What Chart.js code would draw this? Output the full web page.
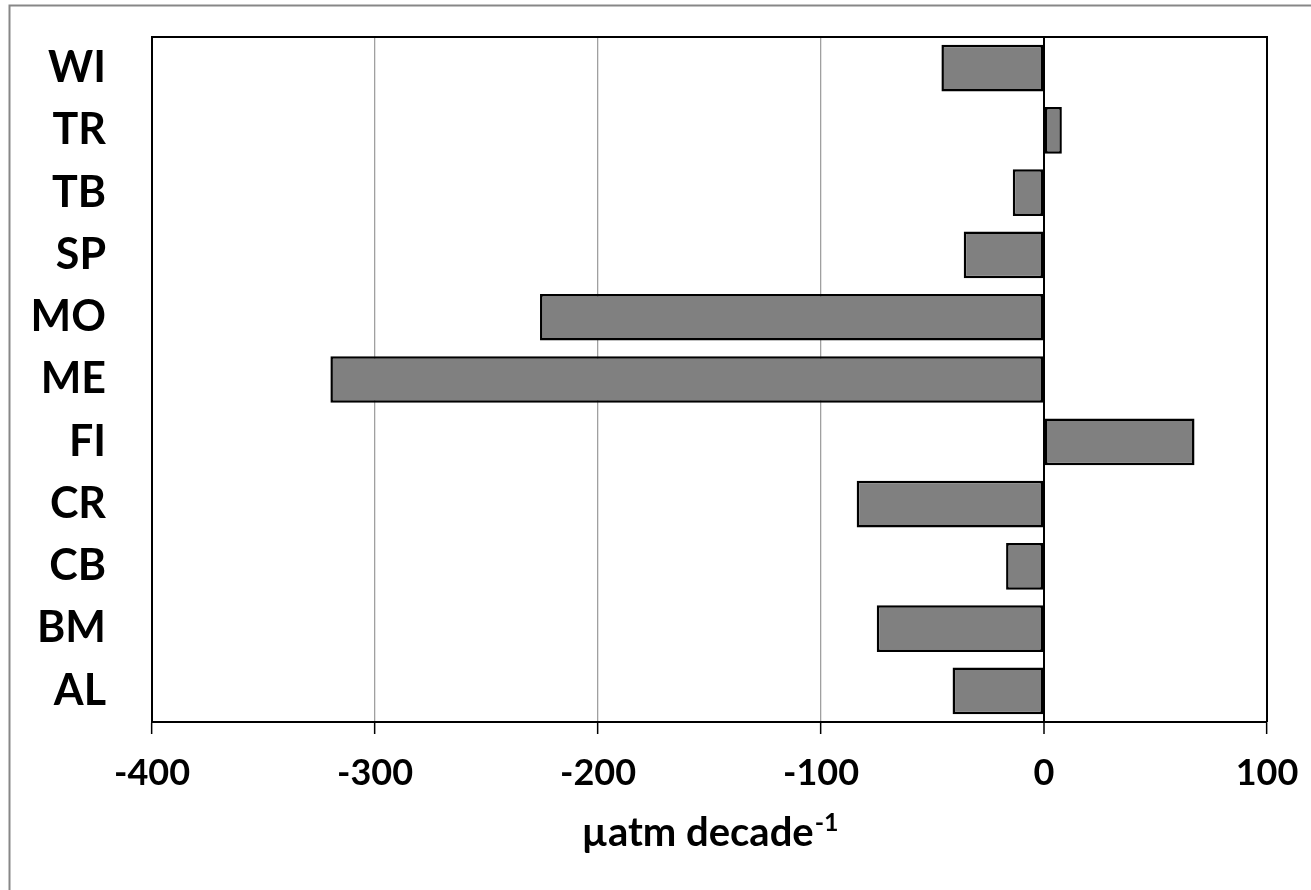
<!DOCTYPE html>
<html>
<head>
<meta charset="utf-8">
<script src="https://cdn.jsdelivr.net/npm/chart.js@4.4.1/dist/chart.umd.min.js"></script>
<style>
  html, body { margin: 0; padding: 0; background: #fff; }
  #wrap { width: 1311px; height: 890px; position: relative; }
</style>
</head>
<body>
<div id="wrap"><canvas id="c" width="1311" height="890"></canvas></div>
<script>
const categories = ['WI', 'TR', 'TB', 'SP', 'MO', 'ME', 'FI', 'CR', 'CB', 'BM', 'AL'];
const trendValues = [-46, 8, -14, -36, -226, -320, 67.5, -84, -17, -75, -41];
const xMin = -400, xMax = 100, xStep = 100;
const axisTitle = 'µatm decade';
const axisTitleSup = '-1';

const FONT = 'Lato, "Open Sans", sans-serif';

// outer frame + plot frame + axis title with superscript
const decor = {
  id: 'decor',
  beforeDraw(chart) {
    const ctx = chart.ctx;
    ctx.save();
    ctx.fillStyle = '#fff';
    ctx.fillRect(0, 0, chart.width, chart.height);
    ctx.strokeStyle = '#878787';
    ctx.lineWidth = 2;
    ctx.strokeRect(9.5, 5.5, 1400, 1000);
    ctx.restore();
  },
  afterDraw(chart) {
    const ctx = chart.ctx;
    const a = chart.chartArea;
    ctx.save();
    ctx.strokeStyle = '#000';
    ctx.lineWidth = 2;
    ctx.beginPath();
    ctx.moveTo(a.left, a.top);
    ctx.lineTo(a.right, a.top);
    ctx.lineTo(a.right, a.bottom);
    ctx.stroke();

    ctx.fillStyle = '#000';
    ctx.textBaseline = 'alphabetic';
    ctx.font = 'bold 40px ' + FONT;
    const w1 = ctx.measureText(axisTitle).width;
    ctx.font = 'bold 25px ' + FONT;
    const w2 = ctx.measureText(axisTitleSup).width;
    const cx = (a.left + a.right) / 2;
    const x0 = cx - (w1 + w2) / 2;
    ctx.font = 'bold 40px ' + FONT;
    ctx.textAlign = 'left';
    ctx.fillText(axisTitle, x0, 846);
    ctx.font = 'bold 25px ' + FONT;
    ctx.fillText(axisTitleSup, x0 + w1 + 1, 831);
    ctx.restore();
  }
};

new Chart(document.getElementById('c'), {
  type: 'bar',
  data: {
    labels: categories,
    datasets: [{
      data: trendValues,
      backgroundColor: '#808080',
      borderColor: '#000',
      borderWidth: 2.5,
      borderSkipped: false,
      barPercentage: 0.75,
      categoryPercentage: 1
    }]
  },
  options: {
    indexAxis: 'y',
    responsive: false,
    animation: false,
    layout: { padding: { left: 0, top: 37, right: 44, bottom: 0 } },
    plugins: { legend: { display: false }, tooltip: { enabled: false } },
    scales: {
      x: {
        min: xMin, max: xMax,
        afterFit(s) { s.height = 890 - 722; s.paddingLeft = 0; s.paddingRight = 0; },
        ticks: {
          stepSize: xStep,
          color: '#000',
          padding: 18,
          font: { family: FONT, size: 36, weight: 'bold' }
        },
        grid: {
          color: c => (c.tick && (c.tick.value === 0 || c.tick.value === xMin || c.tick.value === xMax)) ? '#000' : '#a0a0a0',
          lineWidth: c => (c.tick && c.tick.value === 0) ? 2 : 1.3,
          tickColor: '#000',
          tickLength: 12,
          tickWidth: 1.5
        },
        border: { display: true, color: '#000', width: 2 }
      },
      y: {
        afterFit(s) { s.width = 152; s.paddingTop = 0; s.paddingBottom = 0; },
        ticks: {
          color: '#000',
          padding: 46,
          font: { family: FONT, size: 43, weight: 'bold' }
        },
        grid: { display: false, drawTicks: false },
        border: { display: true, color: '#000', width: 2 }
      }
    }
  },
  plugins: [decor]
});
</script>
</body>
</html>
